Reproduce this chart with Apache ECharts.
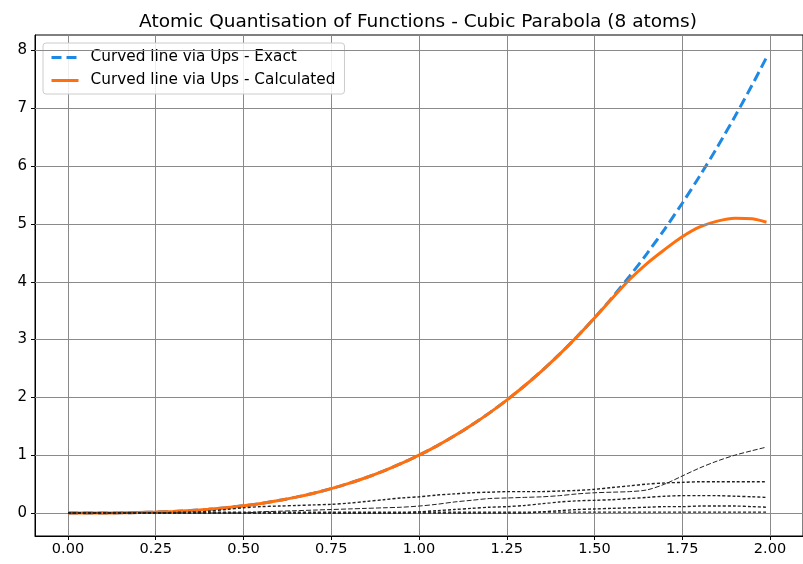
<!DOCTYPE html>
<html><head><meta charset="utf-8">
<script src="https://cdn.jsdelivr.net/npm/echarts@6/dist/echarts.min.js"></script>
<style>html,body{margin:0;padding:0;background:#fff}#c{width:803px;height:564px}</style>
</head><body><div id="c"></div>
<script>
const titleText = 'Atomic Quantisation of Functions - Cubic Parabola (8 atoms)';
const seriesNames = ['Curved line via Ups - Exact', 'Curved line via Ups - Calculated'];
const xs = [0,0.05,0.1,0.15,0.2,0.25,0.3,0.35,0.4,0.45,0.5,0.55,0.6,0.65,0.7,0.75,0.8,0.85,0.9,0.95,1.0,1.05,1.1,1.15,1.2,1.25,1.3,1.35,1.4,1.45,1.5,1.55,1.6,1.65,1.7,1.75,1.8,1.85,1.9,1.95,1.99];
const exact = [0,0.0001,0.001,0.003,0.008,0.016,0.027,0.043,0.064,0.091,0.125,0.166,0.216,0.275,0.343,0.422,0.512,0.614,0.729,0.857,1.0,1.158,1.331,1.521,1.728,1.953,2.197,2.46,2.744,3.049,3.375,3.724,4.096,4.492,4.913,5.359,5.832,6.332,6.859,7.415,7.881];
const calculated = [0,0.0001,0.001,0.003,0.008,0.016,0.027,0.043,0.064,0.091,0.125,0.166,0.216,0.275,0.343,0.422,0.512,0.614,0.729,0.857,1.0,1.158,1.331,1.521,1.728,1.953,2.197,2.46,2.744,3.049,3.375,3.71,4.04,4.32,4.56,4.78,4.95,5.05,5.10,5.09,5.03];
const atom1 = [0,0,0,0,0,0,0,0.01,0.03,0.06,0.09,0.11,0.12,0.13,0.14,0.15,0.17,0.2,0.23,0.26,0.28,0.31,0.33,0.35,0.36,0.37,0.37,0.37,0.38,0.39,0.41,0.44,0.47,0.5,0.52,0.53,0.54,0.54,0.54,0.54,0.54];
const atom2 = [0,0,0,0,0,0,0,0,0,0,0,0.02,0.03,0.04,0.05,0.06,0.07,0.08,0.09,0.1,0.12,0.15,0.19,0.22,0.25,0.26,0.27,0.28,0.3,0.33,0.35,0.36,0.37,0.4,0.5,0.64,0.78,0.9,1.0,1.08,1.14];
const atom3 = [0,0,0,0,0,0,0,0,0,0,0,0,0,0,0,0,0,0,0,0,0.02,0.04,0.06,0.08,0.1,0.11,0.13,0.16,0.19,0.21,0.22,0.23,0.25,0.27,0.29,0.3,0.3,0.3,0.29,0.28,0.27];
const atom4 = [0,0,0,0,0,0,0,0,0,0,0,0,0,0,0,0,0,0,0,0,0,0,0,0,0,0,0,0.02,0.04,0.06,0.07,0.08,0.09,0.1,0.11,0.11,0.12,0.12,0.12,0.11,0.1];
const atom5 = [0,0,0,0,0,0,0.01,0.015,0.015,0.015,0.015,0.015,0.015,0.015,0.015,0.015,0.015,0.015,0.015,0.015,0.015,0.015,0.015,0.015,0.015,0.015,0.015,0.015,0.015,0.015,0.015,0.015,0.015,0.015,0.015,0.015,0.015,0.015,0.015,0.015,0.015];
const xTicks = ['0.00','0.25','0.50','0.75','1.00','1.25','1.50','1.75','2.00'];

const pair = arr => xs.map((x,i)=>[x,arr[i]]);
const F = 'DejaVu Sans';
const atomSeries = [atom1,atom2,atom3,atom4,atom5].map((a,i)=>({
  name:'atom'+(i+1), type:'line', data:pair(a), symbol:'none', smooth:0.3, z:5,
  lineStyle:{color:'#222', width:(i===1?1:1.4), type:(i===1?[5,2]:[3,2])}, silent:true
}));
const chart = echarts.init(document.getElementById('c'), null, {renderer:'canvas'});
chart.setOption({
  animation:false,
  backgroundColor:'#fff',
  title:{text:titleText, left:413, textAlign:'center', top:8, textStyle:{fontFamily:F, fontSize:18.5, fontWeight:'normal', color:'#000'}},
  grid:{left:35, top:35, right:-3, bottom:28, show:true, borderColor:'#000', borderWidth:1},
  legend:{
    data:seriesNames, orient:'vertical', left:43, top:43, padding:[7,9,6,7],
    itemWidth:27, itemHeight:12, itemGap:8,
    itemStyle:{opacity:0}, lineStyle:{width:3},
    borderColor:'#ccc', borderWidth:1, borderRadius:3, backgroundColor:'rgba(255,255,255,0.85)',
    textStyle:{fontFamily:F, fontSize:15.3, color:'#000', padding:[0,0,0,7]}
  },
  xAxis:{type:'value', min:-0.094, max:2.094, interval:0.25,
    axisLine:{show:true, onZero:false, lineStyle:{color:'#000'}},
    axisTick:{show:true, length:4, lineStyle:{color:'#000'}, customValues:[0,0.25,0.5,0.75,1,1.25,1.5,1.75,2]},
    axisLabel:{fontFamily:F, fontSize:14.5, color:'#000', margin:6, customValues:[0,0.25,0.5,0.75,1,1.25,1.5,1.75,2], formatter:v=>xTicks[Math.round(v/0.25)]},
    splitLine:{show:true, lineStyle:{color:'#8a8a8a', width:1}}
  },
  yAxis:{type:'value', min:-0.398, max:8.27,
    axisLine:{show:true, onZero:false, lineStyle:{color:'#000'}},
    axisTick:{show:true, length:4, lineStyle:{color:'#000'}, customValues:[0,1,2,3,4,5,6,7,8]},
    axisLabel:{fontFamily:F, fontSize:15, color:'#000', margin:8, customValues:[0,1,2,3,4,5,6,7,8]},
    splitLine:{show:false}
  },
  series:[
    {name:'ygrid', type:'line', data:[], markLine:{silent:true, symbol:'none', label:{show:false},
      lineStyle:{color:'#8a8a8a', width:1, type:'solid'}, data:[0,1,2,3,4,5,6,7,8].map(v=>({yAxis:v}))}},
    {name:seriesNames[0], type:'line', data:pair(exact), symbol:'none', smooth:0.3, z:3,
      lineStyle:{color:'#1e88e5', width:3, type:[10,5]}, itemStyle:{color:'#1e88e5'}},
    {name:seriesNames[1], type:'line', data:pair(calculated), symbol:'none', smooth:0.3, z:4,
      lineStyle:{color:'#ff6f0e', width:3}, itemStyle:{color:'#ff6f0e'}},
    ...atomSeries
  ]
});
</script></body></html>
